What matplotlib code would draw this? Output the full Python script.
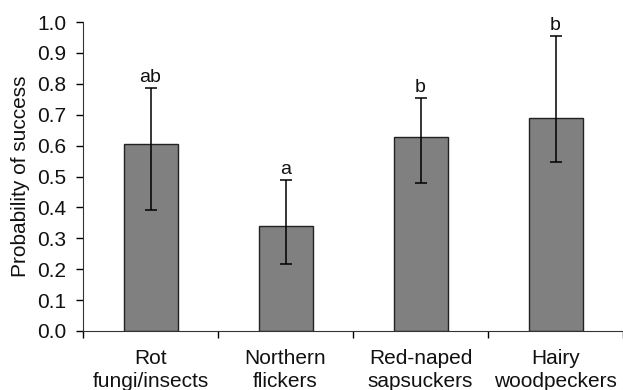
import numpy as np
import matplotlib
matplotlib.use('Agg')
import matplotlib.pyplot as plt

categories = ['Rot\nfungi/insects', 'Northern\nflickers', 'Red-naped\nsapsuckers', 'Hairy\nwoodpeckers']
values = [0.606, 0.341, 0.629, 0.690]
err_low = [0.391, 0.218, 0.480, 0.546]
err_high = [0.787, 0.489, 0.755, 0.955]
letters = ['ab', 'a', 'b', 'b']

plt.rcParams['font.family'] = ['Liberation Sans', 'DejaVu Sans']

fig = plt.figure(figsize=(6.23, 3.9), dpi=100)
ax = fig.add_axes([83 / 623, 59 / 390, 540 / 623, 309 / 390])

x = np.arange(len(categories))
vals = np.array(values)
yerr = [vals - np.array(err_low), np.array(err_high) - vals]
ax.bar(x, vals, width=0.4, color='#808080', edgecolor='#222222', linewidth=1.0, zorder=2)
ax.errorbar(x, vals, yerr=yerr, fmt='none', ecolor='black', elinewidth=1.1,
            capsize=4, capthick=1.1, zorder=3)
for xi, hi, lab in zip(x, err_high, letters):
    ax.text(xi, hi + 0.006, lab, ha='center', va='bottom', fontsize=14, color='#111111')

ax.set_xlim(-0.5, 3.5)
ax.set_ylim(0, 1.0)
ax.set_yticks(np.arange(0, 1.01, 0.1))
ax.set_yticklabels([f'{v:.1f}' for v in np.arange(0, 1.01, 0.1)])
ax.set_xticks(x)
ax.set_xticklabels(categories, linespacing=1.25)
ax.set_xticks(np.arange(-0.5, 3.6, 1.0), minor=True)
ax.tick_params(axis='x', which='major', length=0, labelsize=15, pad=13, labelcolor='#111111')
ax.tick_params(axis='x', which='minor', length=5, direction='out', width=1)
ax.tick_params(axis='y', length=5, direction='out', labelsize=15, width=1, pad=7, labelcolor='#111111')
ax.set_ylabel('Probability of success', fontsize=15, labelpad=5, color='#111111')

for s in ['top', 'right']:
    ax.spines[s].set_visible(False)
for s in ['left', 'bottom']:
    ax.spines[s].set_color('#333333')

fig.savefig('out.png', dpi=100)
